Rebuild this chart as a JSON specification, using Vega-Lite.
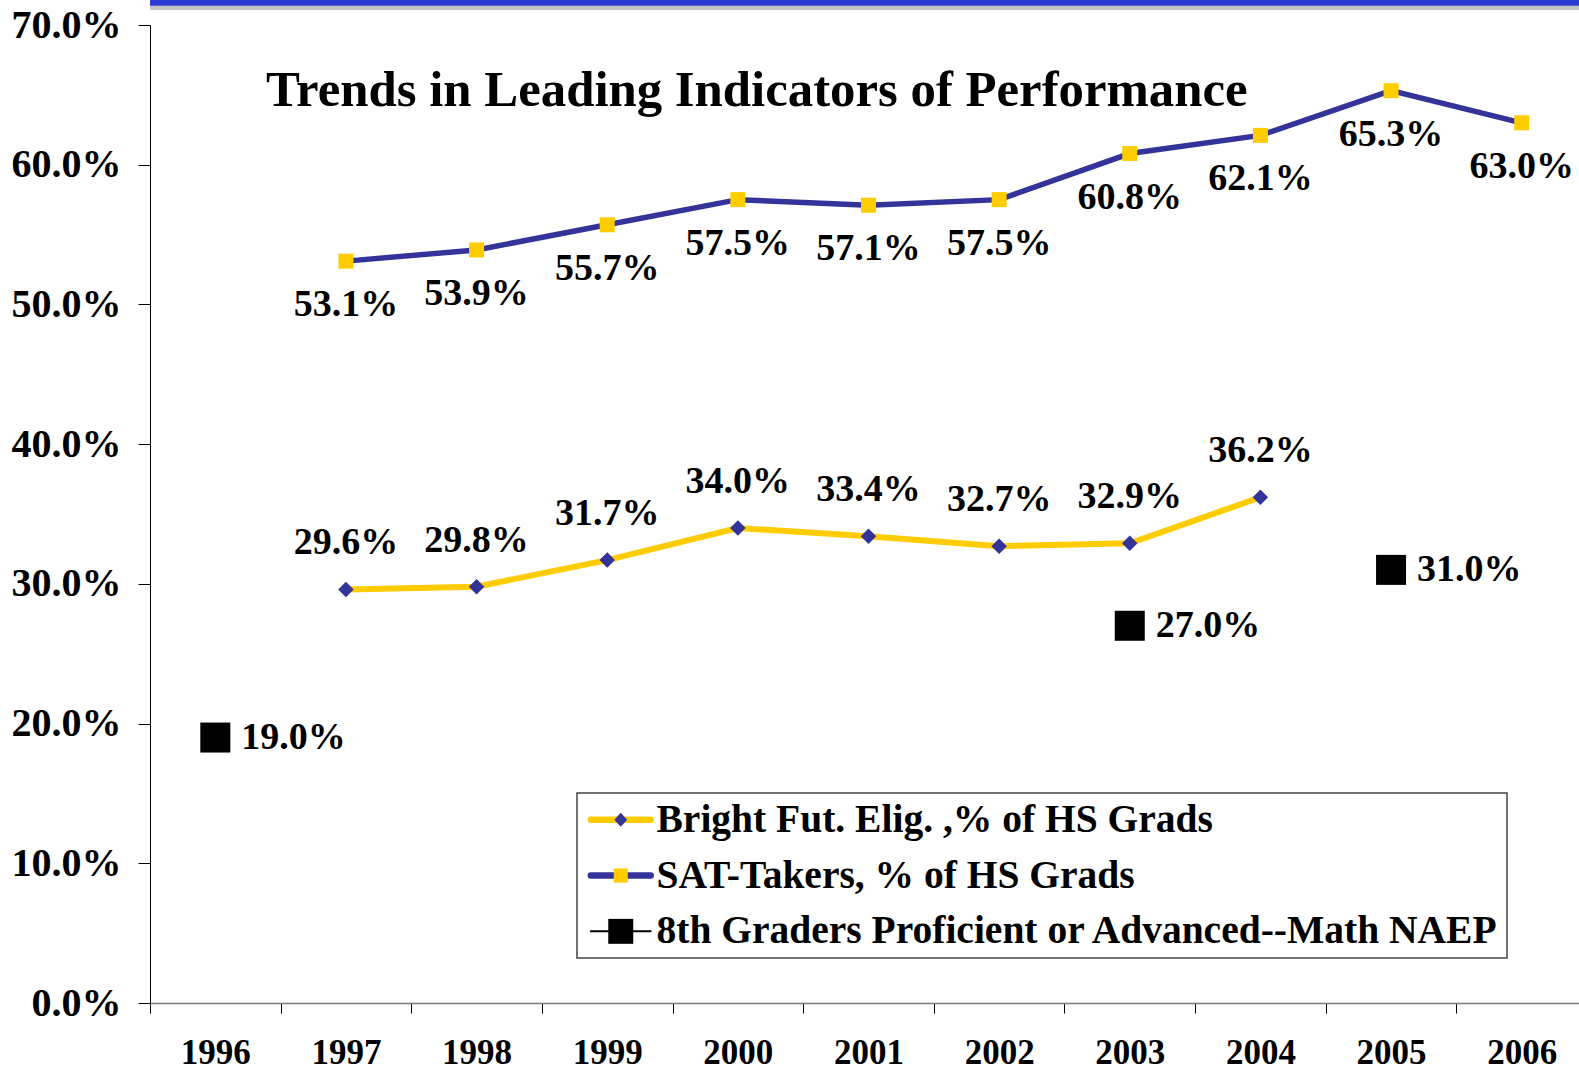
{
  "$schema": "https://vega.github.io/schema/vega-lite/v6.json",
  "width": 1429,
  "height": 978,
  "autosize": {"type": "none"},
  "padding": {"left": 150, "top": 25, "right": 0, "bottom": 67},
  "background": "white",
  "config": {
    "view": {"stroke": null},
    "font": "Liberation Serif",
    "axisX": {
      "domainColor": "#7a7a7a", "domainWidth": 1.5, "tickColor": "#000000", "tickWidth": 1, "tickSize": 10,
      "tickBand": "extent", "grid": false, "labelAngle": 0,
      "labelFont": "Liberation Serif", "labelFontSize": 35, "labelFontWeight": "bold", "labelColor": "#000000", "labelPadding": 22
    },
    "axisY": {
      "domainColor": "#000000", "domainWidth": 1, "tickColor": "#000000", "tickWidth": 1, "tickSize": 12,
      "grid": false,
      "labelFont": "Liberation Serif", "labelFontSize": 40, "labelFontWeight": "bold", "labelColor": "#000000", "labelPadding": 17
    }
  },
  "title": {
    "text": "Trends in Leading Indicators of Performance",
    "font": "Liberation Serif", "fontSize": 50.8, "fontWeight": "bold", "color": "#000000",
    "anchor": "start", "frame": "group", "baseline": "alphabetic", "offset": 0, "dx": 116, "dy": 157
  },
  "datasets": {
    "main": [
      {"year": "1997", "series": "SAT-Takers, % of HS Grads", "pct": 0.531},
      {"year": "1998", "series": "SAT-Takers, % of HS Grads", "pct": 0.539},
      {"year": "1999", "series": "SAT-Takers, % of HS Grads", "pct": 0.557},
      {"year": "2000", "series": "SAT-Takers, % of HS Grads", "pct": 0.575},
      {"year": "2001", "series": "SAT-Takers, % of HS Grads", "pct": 0.571},
      {"year": "2002", "series": "SAT-Takers, % of HS Grads", "pct": 0.575},
      {"year": "2003", "series": "SAT-Takers, % of HS Grads", "pct": 0.608},
      {"year": "2004", "series": "SAT-Takers, % of HS Grads", "pct": 0.621},
      {"year": "2005", "series": "SAT-Takers, % of HS Grads", "pct": 0.653},
      {"year": "2006", "series": "SAT-Takers, % of HS Grads", "pct": 0.630},
      {"year": "1997", "series": "Bright Fut. Elig. ,% of HS Grads", "pct": 0.296},
      {"year": "1998", "series": "Bright Fut. Elig. ,% of HS Grads", "pct": 0.298},
      {"year": "1999", "series": "Bright Fut. Elig. ,% of HS Grads", "pct": 0.317},
      {"year": "2000", "series": "Bright Fut. Elig. ,% of HS Grads", "pct": 0.340},
      {"year": "2001", "series": "Bright Fut. Elig. ,% of HS Grads", "pct": 0.334},
      {"year": "2002", "series": "Bright Fut. Elig. ,% of HS Grads", "pct": 0.327},
      {"year": "2003", "series": "Bright Fut. Elig. ,% of HS Grads", "pct": 0.329},
      {"year": "2004", "series": "Bright Fut. Elig. ,% of HS Grads", "pct": 0.362},
      {"year": "1996", "series": "8th Graders Proficient or Advanced--Math NAEP", "pct": 0.190},
      {"year": "2003", "series": "8th Graders Proficient or Advanced--Math NAEP", "pct": 0.270},
      {"year": "2005", "series": "8th Graders Proficient or Advanced--Math NAEP", "pct": 0.310}
    ]
  },
  "data": {"name": "main"},
  "layer": [
    {
      "data": {"values": [{"band": "shadow"}]},
      "mark": {"type": "rule", "color": "#c4c4c4", "strokeWidth": 4.3},
      "encoding": {"y": {"datum": 0.7123, "type": "quantitative", "scale": {"domain": [0, 0.7], "nice": false, "zero": true}}}
    },
    {
      "data": {"values": [{"band": "bar"}]},
      "mark": {"type": "rule", "color": "#2e3bd2", "strokeWidth": 5.7},
      "encoding": {"y": {"datum": 0.7158, "type": "quantitative"}}
    },
    {
      "transform": [{"filter": "datum.series !== '8th Graders Proficient or Advanced--Math NAEP'"}],
      "mark": {"type": "line"},
      "encoding": {
        "x": {"field": "year", "type": "ordinal", "title": null,
              "scale": {"type": "band", "domain": ["1996","1997","1998","1999","2000","2001","2002","2003","2004","2005","2006"], "range": [0, 1437], "paddingInner": 0, "paddingOuter": 0}},
        "y": {"field": "pct", "type": "quantitative", "title": null,
              "axis": {"values": [0, 0.1, 0.2, 0.3, 0.4, 0.5, 0.6, 0.7], "format": ".1%"}},
        "strokeWidth": {"condition": {"test": "datum.series === 'Bright Fut. Elig. ,% of HS Grads'", "value": 6}, "value": 5.5},
        "stroke": {
          "field": "series", "type": "nominal",
          "scale": {"domain": ["SAT-Takers, % of HS Grads", "Bright Fut. Elig. ,% of HS Grads", "8th Graders Proficient or Advanced--Math NAEP"], "range": ["#333399", "#ffcc00", "#000000"]},
          "legend": {
            "orient": "none", "legendX": 427, "legendY": 768, "direction": "vertical", "title": null,
            "values": ["Bright Fut. Elig. ,% of HS Grads", "SAT-Takers, % of HS Grads", "8th Graders Proficient or Advanced--Math NAEP"],
            "padding": 7, "strokeColor": "#444444",
            "symbolType": "M-1.87,0H1.87", "symbolSize": 1024, "symbolOffset": 17, "symbolStrokeWidth": 6.5,
            "labelFont": "Liberation Serif", "labelFontSize": 39.5, "labelFontWeight": "bold", "labelColor": "#000000",
            "labelOffset": 16, "labelLimit": 2000, "rowPadding": 14.8, "zindex": 1,
            "encode": {
              "legend": {"update": {"strokeWidth": {"value": 1.5}}},
              "symbols": {"update": {"strokeWidth": {"signal": "datum.value === '8th Graders Proficient or Advanced--Math NAEP' ? 2 : 6.5"}, "strokeCap": {"value": "round"}}}
            }
          }
        }
      }
    },
    {
      "mark": {"type": "point", "filled": true, "opacity": 1, "strokeWidth": 0},
      "encoding": {
        "x": {"field": "year", "type": "ordinal", "title": null},
        "y": {"field": "pct", "type": "quantitative", "title": null},
        "fill": {
          "condition": [
            {"test": "datum.series === 'Bright Fut. Elig. ,% of HS Grads'", "value": "#333399"},
            {"test": "datum.series === 'SAT-Takers, % of HS Grads'", "value": "#ffcc00"}
          ],
          "value": "#000000"
        },
        "shape": {
          "condition": {"test": "datum.series === 'Bright Fut. Elig. ,% of HS Grads'", "value": "diamond"},
          "value": "square"
        },
        "size": {
          "condition": [
            {"test": "datum.series === '8th Graders Proficient or Advanced--Math NAEP'", "value": 900},
            {"test": "datum.series === 'SAT-Takers, % of HS Grads'", "value": 225}
          ],
          "value": 240
        }
      }
    },
    {
      "mark": {"type": "point", "filled": true, "opacity": 0, "strokeWidth": 0},
      "encoding": {
        "x": {"field": "year", "type": "ordinal", "title": null},
        "y": {"field": "pct", "type": "quantitative", "title": null},
        "fill": {
          "field": "series", "type": "nominal",
          "scale": {"domain": ["Bright Fut. Elig. ,% of HS Grads", "SAT-Takers, % of HS Grads", "8th Graders Proficient or Advanced--Math NAEP"], "range": ["#333399", "#ffcc00", "#000000"]},
          "legend": {
            "orient": "none", "legendX": 427, "legendY": 768, "direction": "vertical", "title": null,
            "padding": 7, "symbolSize": 1024, "symbolOffset": 17, "symbolStrokeWidth": 0, "symbolOpacity": 1,
            "labelFont": "Liberation Serif", "labelFontSize": 39.5, "labelFontWeight": "bold", "labelColor": "#000000", "labelOpacity": 0,
            "labelOffset": 16, "labelLimit": 2000, "rowPadding": 14.8, "zindex": 2
          }
        },
        "shape": {
          "field": "series", "type": "nominal",
          "scale": {"domain": ["Bright Fut. Elig. ,% of HS Grads", "SAT-Takers, % of HS Grads", "8th Graders Proficient or Advanced--Math NAEP"],
                    "range": ["M0,-0.44L0.4,0L0,0.44L-0.4,0Z", "M-0.44,-0.44H0.44V0.44H-0.44Z", "M-0.78,-0.78H0.78V0.78H-0.78Z"]},
          "legend": {
            "orient": "none", "legendX": 427, "legendY": 768, "direction": "vertical", "title": null,
            "padding": 7, "symbolSize": 1024, "symbolOffset": 17, "symbolStrokeWidth": 0, "symbolOpacity": 1,
            "labelFont": "Liberation Serif", "labelFontSize": 39.5, "labelFontWeight": "bold", "labelColor": "#000000", "labelOpacity": 0,
            "labelOffset": 16, "labelLimit": 2000, "rowPadding": 14.8, "zindex": 2
          }
        }
      }
    },
    {
      "transform": [{"filter": "datum.series === 'SAT-Takers, % of HS Grads'"}],
      "mark": {"type": "text", "font": "Liberation Serif", "fontSize": 38, "fontWeight": "bold", "color": "#000000", "align": "center", "baseline": "middle", "dy": 44},
      "encoding": {
        "x": {"field": "year", "type": "ordinal", "title": null},
        "y": {"field": "pct", "type": "quantitative", "title": null},
        "text": {"field": "pct", "type": "quantitative", "format": ".1%"}
      }
    },
    {
      "transform": [{"filter": "datum.series === 'Bright Fut. Elig. ,% of HS Grads'"}],
      "mark": {"type": "text", "font": "Liberation Serif", "fontSize": 38, "fontWeight": "bold", "color": "#000000", "align": "center", "baseline": "middle", "dy": -46},
      "encoding": {
        "x": {"field": "year", "type": "ordinal", "title": null},
        "y": {"field": "pct", "type": "quantitative", "title": null},
        "text": {"field": "pct", "type": "quantitative", "format": ".1%"}
      }
    },
    {
      "transform": [{"filter": "datum.series === '8th Graders Proficient or Advanced--Math NAEP'"}],
      "mark": {"type": "text", "font": "Liberation Serif", "fontSize": 38, "fontWeight": "bold", "color": "#000000", "align": "left", "baseline": "middle", "dx": 26},
      "encoding": {
        "x": {"field": "year", "type": "ordinal", "title": null},
        "y": {"field": "pct", "type": "quantitative", "title": null},
        "text": {"field": "pct", "type": "quantitative", "format": ".1%"}
      }
    }
  ]
}
